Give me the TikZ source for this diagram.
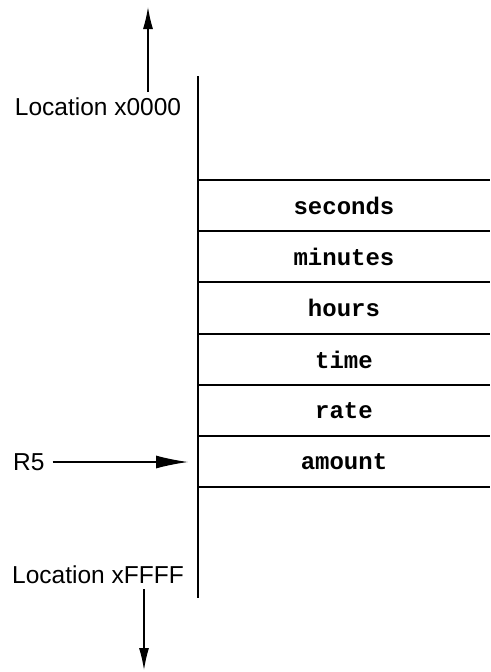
\documentclass[tikz,border=0pt]{standalone}
\usepackage{fontspec}
\setmainfont{Liberation Sans}
\newfontfamily\cellfont{Liberation Mono}
\usetikzlibrary{arrows.meta}
\begin{document}
\begin{tikzpicture}[x=1pt,y=-1pt,
  lbl/.style={font=\fontsize{24.5}{28}\selectfont, inner sep=0pt},
  cell/.style={font=\cellfont\bfseries\fontsize{24}{27}\selectfont, inner sep=0pt},
  sep/.style={line width=1.3pt},
  bigarrow/.style={line width=1.2pt, -{Latex[length=32pt,width=13pt]}},
  vert/.style={line width=1.6pt}]
\useasboundingbox (0,0) rectangle (490,672);
% memory column
\coordinate (top) at (198,76);
\coordinate (bot) at (198,598);
\draw[vert] (top) -- (bot);
\foreach \i/\y in {0/180,1/231,2/282,3/334,4/385,5/436,6/487}{
  \coordinate (L\i) at (198,\y);
  \coordinate (R\i) at (490,\y);
  \draw[sep] (L\i) -- (R\i);
}
\node[cell] (seconds) at (344,205.5) {seconds};
\node[cell] (minutes) at (344,256.5) {minutes};
\node[cell] (hours)   at (344,308)   {hours};
\node[cell] (time)    at (344,359.5) {time};
\node[cell] (rate)    at (344,410.5) {rate};
\node[cell] (amount)  at (344,461.5) {amount};
% labels
\node[lbl] (loc0) at (98,107) {Location x0000};
\node[lbl] (locF) at (98,575) {Location xFFFF};
\node[lbl, anchor=west] (r5) at (13,462) {R5};
% arrows
\coordinate (uptail) at (148,92);
\coordinate (uptip) at (148,7);
\draw[line width=1.3pt, -{Latex[length=22pt,width=10pt]}] (uptail) -- (uptip);
\coordinate (dntail) at (144,589);
\coordinate (dntip) at (144,670);
\draw[line width=1.3pt, -{Latex[length=22pt,width=10pt]}] (dntail) -- (dntip);
\coordinate (r5tip) at (188,462);
\draw[bigarrow] ([xshift=8pt]r5.east) -- (r5tip);
\end{tikzpicture}
\end{document}
